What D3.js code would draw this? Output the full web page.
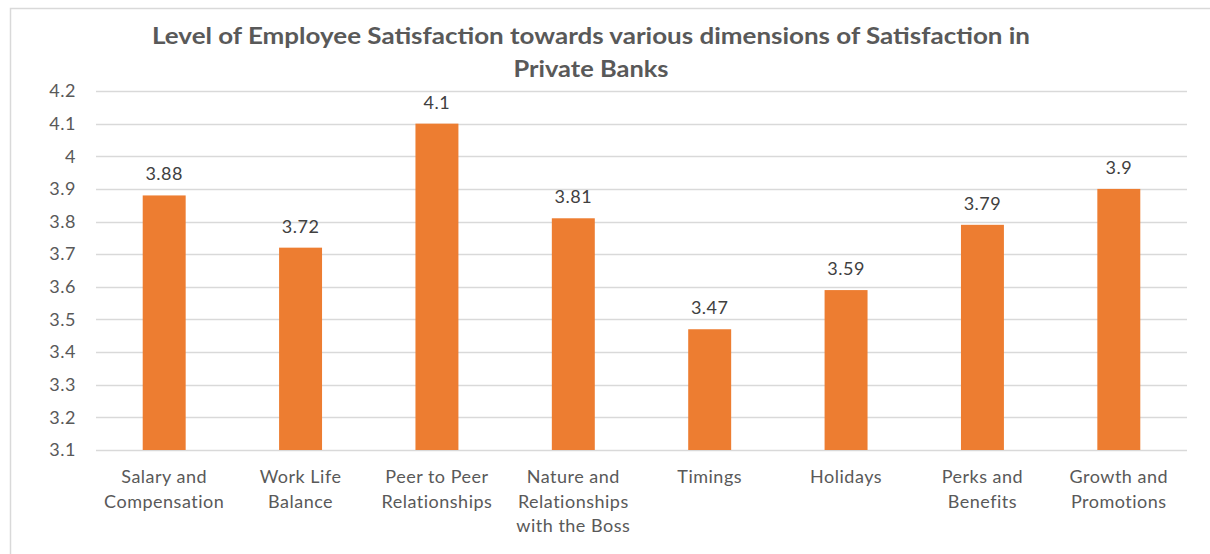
<!DOCTYPE html>
<html><head><meta charset="utf-8">
<script src="https://cdn.jsdelivr.net/npm/d3@7"></script>
<style>
body{margin:0;background:#fff;}
svg{display:block;font-family:Lato,"Open Sans","Liberation Sans",sans-serif;}
</style></head><body>
<div id="chart"></div>
<script>
const categories = [
  ["Salary and","Compensation"],
  ["Work Life","Balance"],
  ["Peer to Peer","Relationships"],
  ["Nature and","Relationships","with the Boss"],
  ["Timings"],
  ["Holidays"],
  ["Perks and","Benefits"],
  ["Growth and","Promotions"]
];
const values = [3.88, 3.72, 4.1, 3.81, 3.47, 3.59, 3.79, 3.9];
const valueLabels = ["3.88","3.72","4.1","3.81","3.47","3.59","3.79","3.9"];
const yTicks = [3.1,3.2,3.3,3.4,3.5,3.6,3.7,3.8,3.9,4.0,4.1,4.2];
const yTickLabels = ["3.1","3.2","3.3","3.4","3.5","3.6","3.7","3.8","3.9","4","4.1","4.2"];
const titleLines = ["Level of Employee Satisfaction towards various dimensions of Satisfaction in","Private Banks"];

(function(){
const W = 1210, H = 554;
const FONT = "Lato,'Open Sans','Liberation Sans',sans-serif";
const FS = 18, LS = "0.5px";
const svg = d3.select("#chart").append("svg").attr("width", W).attr("height", H);

// outer chart border
svg.append("rect").attr("x",10.5).attr("y",8.5).attr("width",W+20).attr("height",H+20)
  .attr("fill","none").attr("stroke","#d9d9d9").attr("stroke-width",1.5);

const pl = 96, pr = 1187, pt = 91, pb = 450;
const x = d3.scaleBand().domain(d3.range(categories.length)).range([pl,pr]).paddingInner(0.685).paddingOuter(0.3425);
const y = d3.scaleLinear().domain([3.1,4.2]).range([pb,pt]);

// gridlines
svg.append("g").selectAll("line").data(yTicks).join("line")
  .attr("x1",pl).attr("x2",pr)
  .attr("y1",d=>Math.round(y(d))+0.5).attr("y2",d=>Math.round(y(d))+0.5)
  .attr("stroke","#d9d9d9").attr("stroke-width",1.5);

// y axis labels
const yAxis = d3.axisLeft(y).tickValues(yTicks).tickFormat((d,i)=>yTickLabels[i]).tickSize(0).tickPadding(20);
const ga = svg.append("g").attr("transform",`translate(${pl},0)`).call(yAxis);
ga.select(".domain").remove();
ga.selectAll("text").attr("font-size",FS).attr("letter-spacing",LS).attr("fill","#595959").attr("font-family",FONT);

// bars
svg.append("g").selectAll("rect").data(values).join("rect")
  .attr("x",(d,i)=>x(i)).attr("width",x.bandwidth())
  .attr("y",d=>y(d)).attr("height",d=>y(3.1)-y(d))
  .attr("fill","#ed7d31");

// value labels
svg.append("g").selectAll("text").data(values).join("text")
  .attr("x",(d,i)=>x(i)+x.bandwidth()/2).attr("y",d=>y(d)-15)
  .attr("text-anchor","middle").attr("font-size",FS).attr("letter-spacing",LS).attr("fill","#404040")
  .text((d,i)=>valueLabels[i]);

// category labels
const cg = svg.append("g").selectAll("text").data(categories).join("text")
  .attr("text-anchor","middle").attr("font-size",FS).attr("letter-spacing",LS).attr("fill","#595959");
cg.each(function(lines,i){
  const t = d3.select(this);
  lines.forEach((l,j)=>{
    t.append("tspan").attr("x",x(i)+x.bandwidth()/2).attr("y",483+j*24.5).text(l);
  });
});

// title
const tt = svg.append("g").selectAll("text").data(titleLines).join("text")
  .attr("x",591).attr("y",(d,i)=>44+i*33)
  .attr("text-anchor","middle").attr("font-size",22).attr("font-weight","bold")
  .attr("fill","#595959").text(d=>d);
const targetW = [878, 155];
tt.each(function(d,i){
  d3.select(this).attr("textLength",targetW[i]).attr("lengthAdjust","spacingAndGlyphs");
});
})();
</script>
</body></html>
